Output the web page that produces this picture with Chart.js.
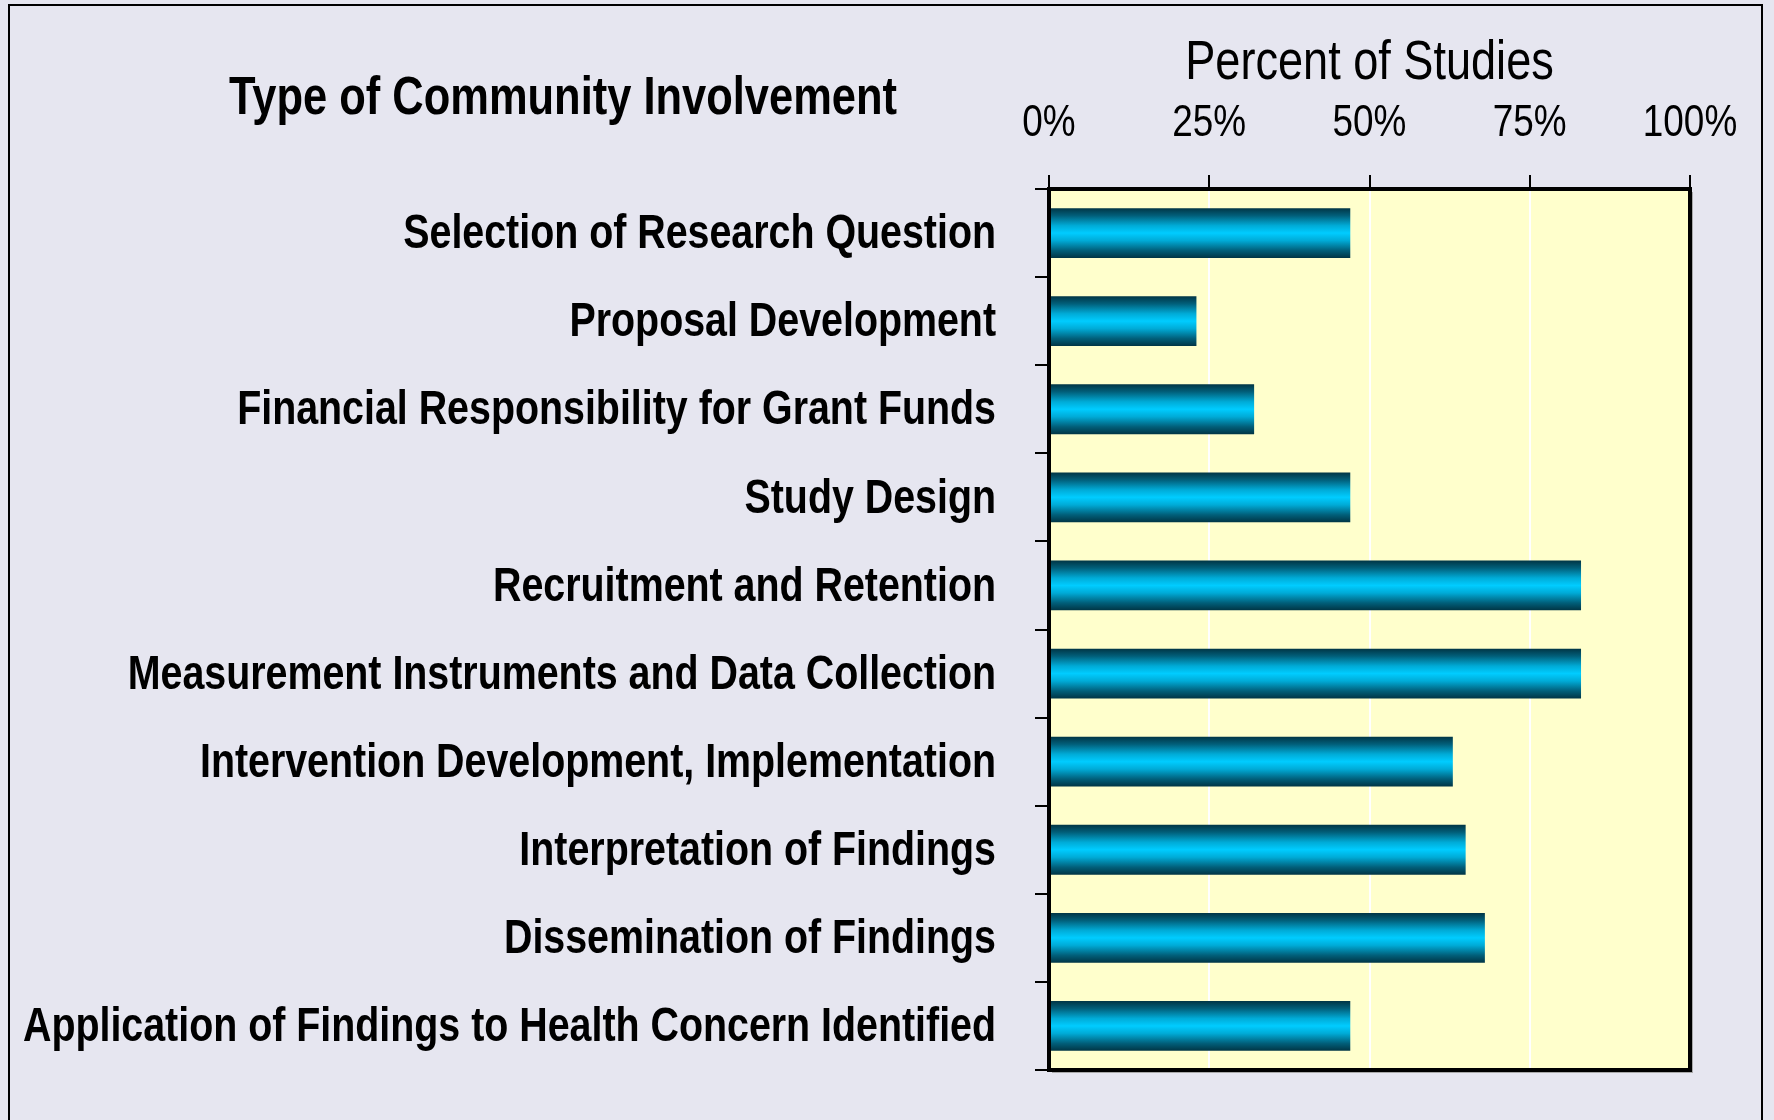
<!DOCTYPE html>
<html>
<head>
<meta charset="utf-8">
<script src="https://cdn.jsdelivr.net/npm/chart.js@4.4.1/dist/chart.umd.min.js"></script>
<style>
  html, body { margin: 0; padding: 0; background: #e6e6f0; overflow: hidden; }
  #wrap { position: relative; width: 1774px; height: 1120px; }
  #frame { position: absolute; left: 8px; top: 4px; width: 1755px; height: 1140px; border: 2px solid #000; box-sizing: border-box; pointer-events: none; }
  canvas { position: absolute; left: 0; top: 0; }
</style>
</head>
<body>
<div id="wrap">
  <div id="frame"></div>
  <canvas id="chart" width="1774" height="1120"></canvas>
</div>
<script>
const categories = [
  'Selection of Research Question',
  'Proposal Development',
  'Financial Responsibility for Grant Funds',
  'Study Design',
  'Recruitment and Retention',
  'Measurement Instruments and Data Collection',
  'Intervention Development, Implementation',
  'Interpretation of Findings',
  'Dissemination of Findings',
  'Application of Findings to Health Concern Identified'
];
const percentValues = [47, 23, 32, 47, 83, 83, 63, 65, 68, 47];
const percentTicks = [0, 25, 50, 75, 100];
const axisTitle = 'Percent of Studies';
const sideTitle = 'Type of Community Involvement';

// no narrow face installed, so text is squeezed horizontally like Arial Narrow
const sans = "'Liberation Sans', Arial, sans-serif";
const squeeze = 0.82;
const barPct = 0.565;

// vertical shine on each bar: dark edges, bright cyan middle
function barGradient(ctx) {
  const chart = ctx.chart;
  if (!chart.chartArea || ctx.type !== 'data') return '#00ccff';
  const y = chart.scales.y;
  const c = y.getPixelForValue(ctx.dataIndex);
  const h = y.height / categories.length * barPct;
  const g = chart.ctx.createLinearGradient(0, c - h / 2, 0, c + h / 2);
  g.addColorStop(0, '#013545');
  g.addColorStop(0.15, '#015f7a');
  g.addColorStop(0.35, '#00abd7');
  g.addColorStop(0.5, '#00ccff');
  g.addColorStop(0.65, '#00abd7');
  g.addColorStop(0.85, '#015f7a');
  g.addColorStop(1, '#013545');
  return g;
}

function narrowText(ctx, s, px, py, font, align, baseline) {
  ctx.save();
  ctx.translate(px, py);
  ctx.scale(squeeze, 1);
  ctx.font = font;
  ctx.fillStyle = '#000';
  ctx.textAlign = align;
  ctx.textBaseline = baseline;
  ctx.fillText(s, 0, 0);
  ctx.restore();
}

const plotDecor = {
  id: 'plotDecor',
  beforeDraw(chart) {
    const { ctx, chartArea: a } = chart;
    ctx.save();
    ctx.fillStyle = '#a9a9a9';
    ctx.fillRect(a.left + 3, a.top + 3, a.right - a.left, a.bottom - a.top);
    ctx.fillStyle = '#ffffcc';
    ctx.fillRect(a.left, a.top, a.right - a.left, a.bottom - a.top);
    ctx.restore();
  },
  afterDraw(chart) {
    const { ctx, chartArea: a } = chart;
    const x = chart.scales.x;
    const y = chart.scales.y;
    ctx.save();
    ctx.strokeStyle = '#000';
    ctx.lineWidth = 4;
    ctx.strokeRect(a.left, a.top, a.right - a.left, a.bottom - a.top);
    ctx.restore();

    categories.forEach((label, i) => {
      narrowText(ctx, label, a.left - 53, y.getPixelForTick(i) + 2, 'bold 48px ' + sans, 'right', 'middle');
    });
    percentTicks.forEach(v => {
      narrowText(ctx, v + '%', x.getPixelForValue(v), a.top - 53, '45px ' + sans, 'center', 'alphabetic');
    });
    narrowText(ctx, axisTitle, (x.left + x.right) / 2, 79, '55px ' + sans, 'center', 'alphabetic');
    narrowText(ctx, sideTitle, 563, 114, 'bold 53px ' + sans, 'center', 'alphabetic');
  }
};

new Chart(document.getElementById('chart'), {
  type: 'bar',
  data: {
    labels: categories,
    datasets: [{
      data: percentValues,
      backgroundColor: barGradient,
      borderWidth: 0,
      barPercentage: barPct,
      categoryPercentage: 1
    }]
  },
  options: {
    indexAxis: 'y',
    responsive: false,
    animation: false,
    devicePixelRatio: 1,
    layout: { padding: { left: 0, top: 0, right: 84, bottom: 50 } },
    plugins: { legend: { display: false }, tooltip: { enabled: false } },
    scales: {
      x: {
        position: 'top',
        min: 0,
        max: 100,
        afterBuildTicks: scale => { scale.ticks = percentTicks.map(v => ({ value: v })); },
        afterFit: scale => { scale.height = 189; },
        ticks: { display: false },
        grid: {
          color: c => (c.tick && (c.tick.value === 0 || c.tick.value === 100)) ? 'rgba(0,0,0,0)' : '#ffffff',
          tickColor: '#000',
          lineWidth: 2,
          tickLength: 14
        },
        border: { display: true, color: '#000', width: 4 }
      },
      y: {
        afterFit: scale => { scale.width = 1049; },
        ticks: { display: false },
        grid: {
          offset: true,
          drawOnChartArea: false,
          tickColor: '#000',
          lineWidth: 2,
          tickLength: 14
        },
        border: { display: true, color: '#000', width: 4 }
      }
    }
  },
  plugins: [plotDecor]
});
</script>
</body>
</html>
